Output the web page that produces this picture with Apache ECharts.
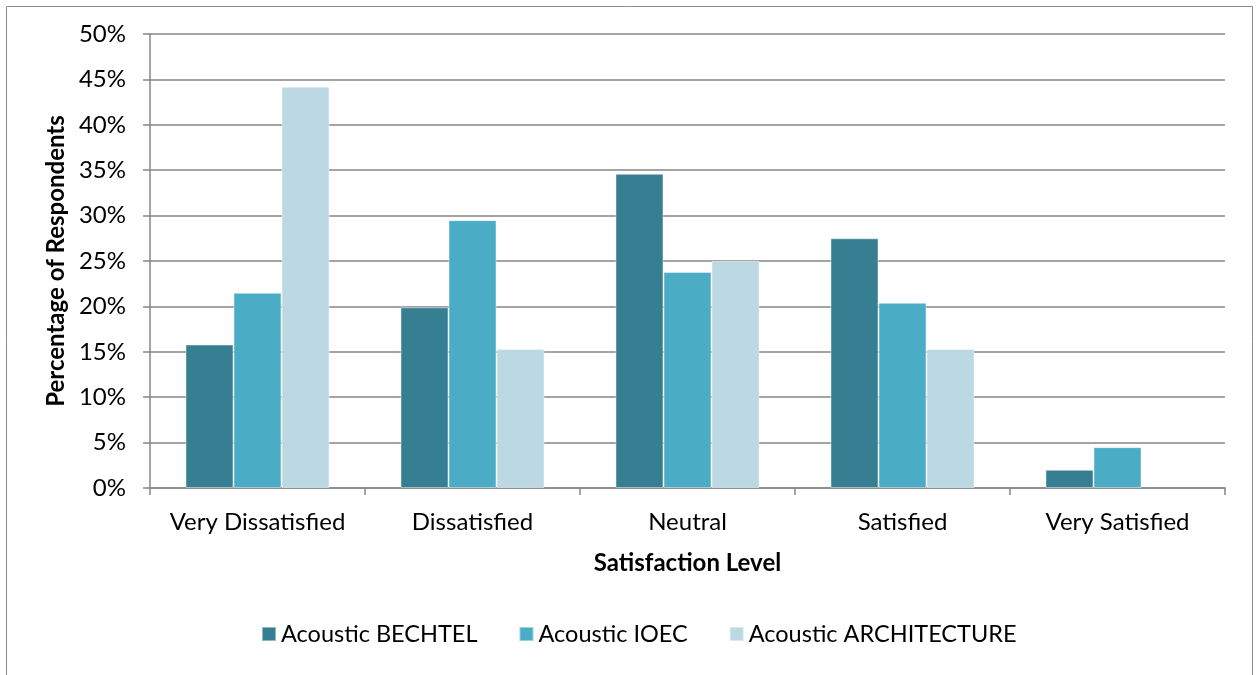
<!DOCTYPE html>
<html>
<head>
<meta charset="utf-8">
<title>Satisfaction Level by Acoustic Group</title>
<script src="https://cdn.jsdelivr.net/npm/echarts@6/dist/echarts.min.js"></script>
<style>
  html, body { margin: 0; padding: 0; background: #ffffff; }
  #chart { width: 1259px; height: 675px; }
</style>
</head>
<body>
<div id="chart"></div>
<script>
// Satisfaction levels (categories)
const categories = ['Very Dissatisfied', 'Dissatisfied', 'Neutral', 'Satisfied', 'Very Satisfied'];

// Percentage of respondents per group
const bechtel      = [15.8, 19.9, 34.6, 27.5, 2.0];
const ioec         = [21.5, 29.5, 23.8, 20.4, 4.5];
const architecture = [44.2, 15.3, 25.0, 15.3, 0];

const seriesNames  = ['Acoustic BECHTEL', 'Acoustic IOEC', 'Acoustic ARCHITECTURE'];
const seriesColors = ['#367F93', '#4BACC6', '#BCD8E3'];

const FONT = 'Lato, "Open Sans", sans-serif';

const chart = echarts.init(document.getElementById('chart'));

function bar(name, data, color) {
  return {
    name: name,
    type: 'bar',
    // zero-height bars get no outline so nothing is drawn for them
    data: data.map(v => v === 0 ? { value: 0, itemStyle: { borderWidth: 0 } } : v),
    barGap: '0%',
    barCategoryGap: '33%',
    itemStyle: { color: color, borderColor: 'rgba(255,255,255,0.45)', borderWidth: 1 },
    emphasis: { disabled: true }
  };
}

chart.setOption({
  animation: false,
  backgroundColor: '#ffffff',
  textStyle: { fontFamily: FONT },
  graphic: [{
    type: 'rect',
    left: 4, top: 4,
    shape: { width: 1246, height: 700 },
    style: { fill: 'none', stroke: '#8c8c8c', lineWidth: 1 },
    silent: true
  }],
  grid: { left: 150, right: 34, top: 34, bottom: 187 },
  legend: {
    bottom: 24,
    left: 256,
    itemWidth: 14,
    itemHeight: 14,
    itemGap: 41,
    icon: 'rect',
    textStyle: { fontFamily: FONT, fontSize: 23.5, color: '#000000' },
    data: seriesNames
  },
  xAxis: {
    type: 'category',
    data: categories,
    name: 'Satisfaction Level',
    nameLocation: 'middle',
    nameGap: 63,
    nameTextStyle: { fontFamily: FONT, fontSize: 24, fontWeight: 'bold', color: '#000000' },
    axisLine: { lineStyle: { color: '#868686', width: 1.5 } },
    axisTick: { show: true, interval: 0, length: 7, lineStyle: { color: '#868686', width: 1.5 } },
    axisLabel: { interval: 0, fontFamily: FONT, fontSize: 24, color: '#000000', margin: 22 }
  },
  yAxis: {
    type: 'value',
    min: 0,
    max: 50,
    interval: 5,
    name: 'Percentage of Respondents',
    nameLocation: 'middle',
    nameGap: 80,
    nameTextStyle: { fontFamily: FONT, fontSize: 24, fontWeight: 'bold', color: '#000000' },
    axisLine: { show: true, lineStyle: { color: '#868686', width: 1.5 } },
    axisTick: { show: true, length: 7, lineStyle: { color: '#868686', width: 1.5 } },
    axisLabel: { fontFamily: FONT, fontSize: 24, color: '#000000', margin: 24, formatter: '{value}%' },
    splitLine: { show: true, lineStyle: { color: '#868686', width: 1.5 } }
  },
  series: [
    bar(seriesNames[0], bechtel, seriesColors[0]),
    bar(seriesNames[1], ioec, seriesColors[1]),
    bar(seriesNames[2], architecture, seriesColors[2])
  ]
});
</script>
</body>
</html>
